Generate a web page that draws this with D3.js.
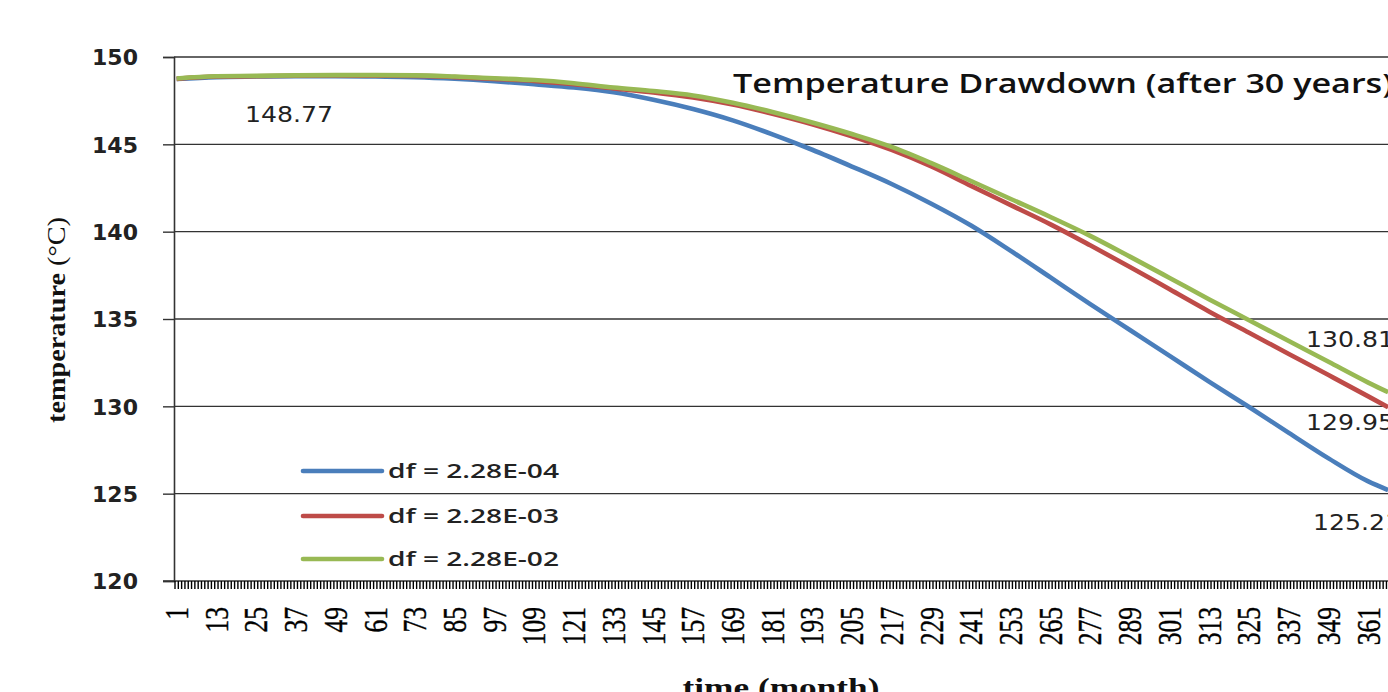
<!DOCTYPE html>
<html>
<head>
<meta charset="utf-8">
<script src="https://cdn.jsdelivr.net/npm/d3@7"></script>
<style>
  html, body { margin: 0; padding: 0; background: #fff; overflow: hidden; }
  svg { display: block; }
</style>
</head>
<body>
<svg id="chart" width="1388" height="692"></svg>
<script>
// ---------------- DATA ----------------
const months = d3.range(1, 368);               // category axis: month 1 .. 367
const xTickLabels = [1, 13, 25, 37, 49, 61, 73, 85, 97, 109, 121, 133, 145, 157, 169, 181,
  193, 205, 217, 229, 241, 253, 265, 277, 289, 301, 313, 325, 337, 349, 361];
const yTicks = [120, 125, 130, 135, 140, 145, 150];
const sampleMonths = [1, 13, 25, 37, 49, 61, 73, 85, 97, 109, 121, 133, 145, 157, 169, 181,
  193, 205, 217, 229, 241, 253, 265, 277, 289, 301, 313, 325, 337, 349, 361, 367];
const seriesNames = ["df = 2.28E-04", "df = 2.28E-03", "df = 2.28E-02"];
const tempDf4 = [148.74, 148.85, 148.88, 148.90, 148.90, 148.88, 148.85, 148.76, 148.62, 148.44,
  148.25, 147.98, 147.55, 147.02, 146.37, 145.57, 144.69, 143.73, 142.73, 141.60, 140.35,
  138.90, 137.38, 135.85, 134.37, 132.89, 131.40, 129.96, 128.48, 127.02, 125.70, 125.21];
const tempDf3 = [148.75, 148.88, 148.90, 148.93, 148.94, 148.93, 148.92, 148.85, 148.75, 148.63,
  148.44, 148.20, 147.97, 147.68, 147.28, 146.75, 146.15, 145.46, 144.68, 143.73, 142.62,
  141.52, 140.42, 139.22, 137.98, 136.70, 135.42, 134.21, 133.00, 131.79, 130.57, 129.95];
const tempDf2 = [148.77, 148.90, 148.92, 148.95, 148.96, 148.96, 148.95, 148.88, 148.78, 148.68,
  148.50, 148.25, 148.05, 147.80, 147.38, 146.85, 146.25, 145.59, 144.85, 143.92, 142.90,
  141.87, 140.84, 139.76, 138.57, 137.35, 136.12, 134.93, 133.74, 132.55, 131.36, 130.81];
const dataLabels = ["148.77", "130.81", "129.95", "125.21"];

// ---------------- LAYOUT ----------------
const svg = d3.select("#chart");
const colors = ["#4A7EBB", "#BE4B48", "#98B954"];
const plotLeft = 174, plotTop = 57, plotBottom = 581, plotRight = 1400;

const x = d3.scaleBand().domain(months).range([plotLeft + 1, plotLeft + 1 + months.length * 3.31]).padding(0);
const xc = m => x(m) + x.bandwidth() / 2;
const y = d3.scaleLinear().domain([120, 150]).range([plotBottom, plotTop]);

// gridlines
svg.append("g").selectAll("line").data(yTicks.filter(t => t > 120)).join("line")
  .attr("x1", plotLeft).attr("x2", plotRight)
  .attr("y1", d => y(d)).attr("y2", d => y(d))
  .attr("stroke", "#333").attr("stroke-width", 1.4);

// y axis
const yAxis = d3.axisLeft(y).tickValues(yTicks).tickSize(11).tickPadding(0).tickFormat(d3.format("d"));
const gy = svg.append("g").attr("transform", `translate(${plotLeft},0)`).call(yAxis);
gy.select(".domain").attr("stroke", "#333").attr("stroke-width", 1.6);
gy.selectAll(".tick line").attr("stroke", "#333").attr("stroke-width", 1.4);
gy.selectAll(".tick text")
  .attr("x", -36).attr("dy", "0.36em")
  .attr("font-family", "DejaVu Sans").attr("font-weight", "bold").attr("font-size", 22)
  .attr("fill", "#222");

// x axis line
svg.append("line").attr("x1", plotLeft - 11).attr("x2", plotRight)
  .attr("y1", plotBottom).attr("y2", plotBottom)
  .attr("stroke", "#333").attr("stroke-width", 1.6);

// dense category tick marks (between categories)
svg.append("g").selectAll("line").data(months).join("line")
  .attr("x1", d => x(d)).attr("x2", d => x(d))
  .attr("y1", plotBottom).attr("y2", plotBottom + 8)
  .attr("stroke", "#000").attr("stroke-width", 1.4);

// x tick labels (rotated)
svg.append("g").selectAll("text").data(xTickLabels).join("text")
  .attr("transform", d => `translate(${xc(d)},${607}) scale(1.3,1) rotate(-90)`)
  .attr("text-anchor", "end").attr("dy", "0.34em")
  .attr("font-family", "Liberation Serif").attr("font-size", 25.5)
  .attr("fill", "#000").attr("stroke", "#000").attr("stroke-width", 0.3)
  .text(d => d);

// series lines
const allSeries = [tempDf4, tempDf3, tempDf2];
const line = d3.line().x((d, i) => xc(sampleMonths[i])).y(d => y(d)).curve(d3.curveMonotoneX);
svg.append("g").selectAll("path").data(allSeries).join("path")
  .attr("d", d => line(d))
  .attr("fill", "none")
  .attr("stroke", (d, i) => colors[i])
  .attr("stroke-width", 4.6)
  .attr("stroke-linejoin", "round");

// data labels
const labelPos = [[245, 122], [1306, 347], [1306, 430], [1313, 530]];
svg.append("g").selectAll("text").data(dataLabels).join("text")
  .attr("x", (d, i) => labelPos[i][0]).attr("y", (d, i) => labelPos[i][1])
  .attr("font-family", "DejaVu Sans").attr("font-size", 22)
  .attr("textLength", 88).attr("lengthAdjust", "spacingAndGlyphs")
  .attr("fill", "#222")
  .text(d => d);

// title
svg.append("text").attr("x", 733).attr("y", 93)
  .attr("font-family", "Open Sans").attr("font-weight", 600).attr("font-size", 27)
  .attr("textLength", 660).attr("lengthAdjust", "spacingAndGlyphs")
  .attr("fill", "#111")
  .text("Temperature Drawdown (after 30 years)");

// legend
const legY = [471, 516, 559];
const leg = svg.append("g");
leg.selectAll("line").data(seriesNames).join("line")
  .attr("x1", 303).attr("x2", 382)
  .attr("y1", (d, i) => legY[i]).attr("y2", (d, i) => legY[i])
  .attr("stroke", (d, i) => colors[i]).attr("stroke-width", 4.6).attr("stroke-linecap", "round");
leg.selectAll("text").data(seriesNames).join("text")
  .attr("x", 388).attr("y", (d, i) => legY[i] + 7)
  .attr("font-family", "Open Sans").attr("font-weight", 600).attr("font-size", 20)
  .attr("textLength", 171).attr("lengthAdjust", "spacingAndGlyphs")
  .attr("fill", "#222")
  .text(d => d);

// y axis title
const yt = svg.append("text")
  .attr("transform", "translate(57,320) rotate(-90)")
  .attr("text-anchor", "middle").attr("dy", "0.3em")
  .attr("font-family", "Liberation Serif").attr("font-size", 25)
  .attr("textLength", 206).attr("lengthAdjust", "spacingAndGlyphs")
  .attr("fill", "#111");
yt.append("tspan").attr("font-weight", "bold").text("temperature");
yt.append("tspan").text(" (°C)");

// x axis title
svg.append("text").attr("x", 781).attr("y", 697)
  .attr("text-anchor", "middle")
  .attr("font-family", "Liberation Serif").attr("font-weight", "bold").attr("font-size", 27)
  .attr("textLength", 197).attr("lengthAdjust", "spacingAndGlyphs")
  .attr("fill", "#111")
  .text("time (month)");
</script>
</body>
</html>
